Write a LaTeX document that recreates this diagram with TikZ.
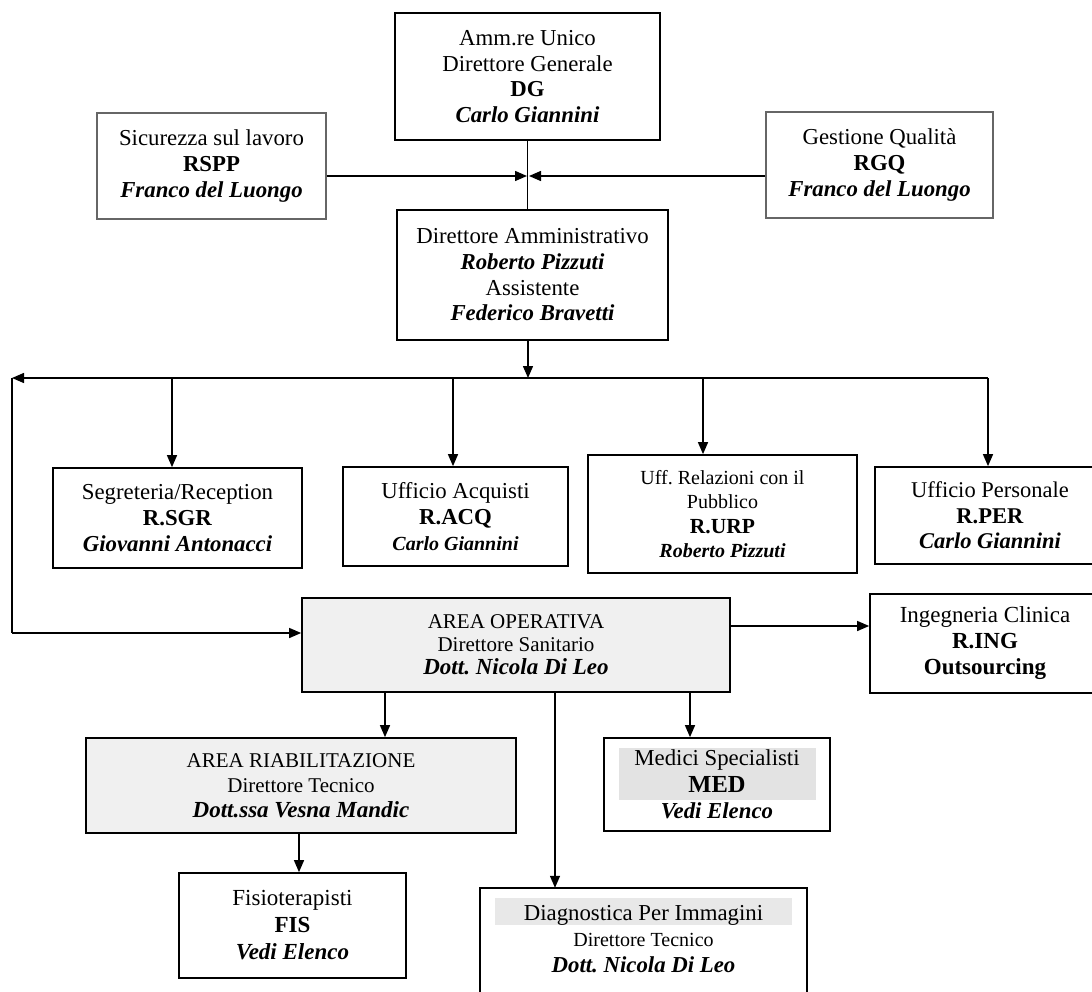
\documentclass[tikz,border=0pt]{standalone}
\usepackage{fontspec}
\setmainfont{Liberation Serif}
\usetikzlibrary{arrows.meta}
\newcommand{\ftS}{\fontsize{20}{25}\selectfont}
\newcommand{\ftL}{\fontsize{23}{25}\selectfont}
\begin{document}
\begin{tikzpicture}[x=1pt,y=-1pt,
  box/.style={draw, line width=1.7pt, inner sep=0pt, align=center, font=\fontsize{22.8}{25.7}\selectfont},
  lbox/.style={box, draw=black!60, line width=1.1pt},
  gbox/.style={box, fill=black!6},
  arr/.style={line width=1.4pt, -{Triangle[length=12pt,width=10pt]}},
  ln/.style={line width=1.4pt}]
\useasboundingbox (0,0) rectangle (1092,992);
\clip (0,0) rectangle (1092,992);

% coordinates for connector routing
\coordinate (bow) at (528,176);
\coordinate (busL) at (12,378);
\coordinate (busM) at (528,378);
\coordinate (busR) at (988,378);
\coordinate (dSGR) at (172,378);
\coordinate (dACQ) at (453,378);
\coordinate (dURP) at (703,378);
\coordinate (cornerL) at (12,633);
\coordinate (ingY) at (800,626);
\coordinate (xAR) at (385,700);
\coordinate (xDPI) at (555,700);
\coordinate (xMED) at (690,700);
\coordinate (xFIS) at (299,850);

% top level
\node[box, minimum width=265, minimum height=127] (DG) at (527.5,76.5)
  {Amm.re Unico\\Direttore Generale\\\textbf{DG}\\\textbf{\textit{Carlo Giannini}}};
\node[lbox, minimum width=229, minimum height=106] (RSPP) at (211.5,166)
  {Sicurezza sul lavoro\\\textbf{RSPP}\\\textbf{\textit{Franco del Luongo}}};
\node[lbox, minimum width=227, minimum height=106] (RGQ) at (879.5,165)
  {Gestione Qualità\\\textbf{RGQ}\\\textbf{\textit{Franco del Luongo}}};
\node[box, minimum width=271, minimum height=130] (DA) at (532.5,275)
  {Direttore Amministrativo\\\textbf{\textit{Roberto Pizzuti}}\\Assistente\\\textbf{\textit{Federico Bravetti}}};

% second row
\node[box, minimum width=249, minimum height=100] (SGR) at (177.5,518)
  {Segreteria/Reception\\\textbf{R.SGR}\\\textbf{\textit{Giovanni Antonacci}}};
\node[box, minimum width=225, minimum height=99] (ACQ) at (455.5,516.5)
  {Ufficio Acquisti\\\textbf{R.ACQ}\\{\ftS\bfseries\itshape Carlo Giannini}};
\node[box, minimum width=269, minimum height=118, font=\fontsize{21.5}{24.5}\selectfont] (URP) at (722.5,514)
  {{\ftS Uff.\ Relazioni con il}\\{\ftS Pubblico}\\\textbf{R.URP}\\{\ftS\bfseries\itshape Roberto Pizzuti}};
\node[box, minimum width=230, minimum height=97, font=\fontsize{22.5}{25.5}\selectfont] (PER) at (990,515.5)
  {Ufficio Personale\\\textbf{R.PER}\\\textbf{\textit{Carlo Giannini}}};

% operative area
\node[gbox, minimum width=428, minimum height=94, font=\fontsize{21}{23}\selectfont] (AO) at (516,645)
  {AREA OPERATIVA\\Direttore Sanitario\\{\ftL\bfseries\itshape Dott.\ Nicola Di Leo}};
\node[box, minimum width=230, minimum height=99, font=\fontsize{23}{26}\selectfont] (ING) at (985,643.5)
  {Ingegneria Clinica\\\textbf{R.ING}\\\textbf{Outsourcing}};

% gray bands
\fill[black!11] (619,748) rectangle (816,800);
\fill[black!9] (495,898) rectangle (792,925);

\node[gbox, minimum width=430, minimum height=95, font=\fontsize{21}{25}\selectfont] (AR) at (301,785.5)
  {AREA RIABILITAZIONE\\Direttore Tecnico\\{\ftL\bfseries\itshape Dott.ssa Vesna Mandic}};
\node[box, minimum width=226, minimum height=93, font=\fontsize{22.8}{26.5}\selectfont] (MED) at (717,784.5)
  {Medici Specialisti\\{\fontsize{24.5}{26.5}\selectfont\bfseries MED}\\\textbf{\textit{Vedi Elenco}}};
\node[box, minimum width=227, minimum height=105, font=\fontsize{23}{27}\selectfont] (FIS) at (292.5,925.5)
  {Fisioterapisti\\\textbf{FIS}\\\textbf{\textit{Vedi Elenco}}};
\node[inner sep=0pt, align=center, minimum width=327, minimum height=102, font=\fontsize{22.8}{26}\selectfont] (DPI) at (643.5,939)
  {Diagnostica Per Immagini\\{\ftS Direttore Tecnico}\\\textbf{\textit{Dott.\ Nicola Di Leo}}};
\draw[line width=1.7pt] ([yshift=-30pt]DPI.south west) -- (DPI.north west) -- (DPI.north east) -- ([yshift=-30pt]DPI.south east);

% connectors
\draw[ln] (DG.south) -- (DA.north -| DG.south);
\draw[arr] (RSPP.east |- bow) -- ([xshift=-1pt]bow);
\draw[arr] (RGQ.west |- bow) -- ([xshift=1pt]bow);
\draw[arr] (DA.south -| busM) -- (busM);
\draw[arr] (busR) -- (busL);
\draw[ln] (busL) -- (cornerL);
\draw[arr] (cornerL) -- (cornerL -| AO.west);
\draw[arr] (dSGR) -- (dSGR |- SGR.north);
\draw[arr] (dACQ) -- (dACQ |- ACQ.north);
\draw[arr] (dURP) -- (dURP |- URP.north);
\draw[arr] (busR) -- (busR |- PER.north);
\draw[arr] (AO.east |- ingY) -- (ING.west |- ingY);
\draw[arr] (AO.south -| xAR) -- (AR.north -| xAR);
\draw[arr] (AO.south -| xDPI) -- (DPI.north -| xDPI);
\draw[arr] (AO.south -| xMED) -- (MED.north -| xMED);
\draw[arr] (AR.south -| xFIS) -- (FIS.north -| xFIS);
\end{tikzpicture}
\end{document}
